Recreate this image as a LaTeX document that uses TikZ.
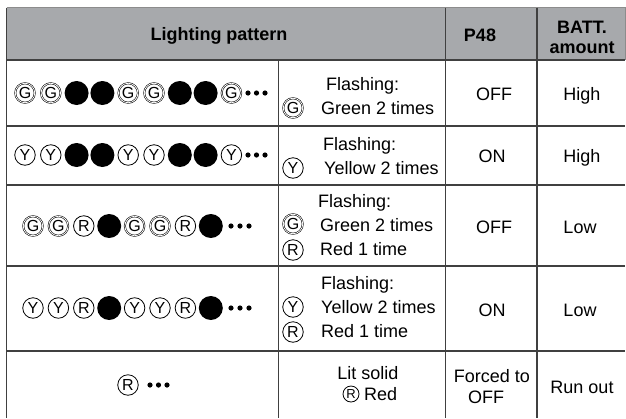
\documentclass[tikz,border=0pt]{standalone}
\usepackage{fontspec}
\setmainfont{Liberation Sans}
\definecolor{tblline}{RGB}{64,64,64}
\definecolor{headgray}{RGB}{167,169,172}
\begin{document}
\begin{tikzpicture}[x=1pt, y=-1pt,
    rule/.style={draw=tblline, line width=1.3pt},
    txt/.style={font=\fontsize{18}{22}\selectfont, inner sep=0pt, anchor=base},
    txtl/.style={txt, anchor=base west},
    head/.style={txt, font=\fontsize{18}{22}\selectfont\bfseries},
    lamp/.style={circle, draw, line width=0.8pt, inner sep=0pt, minimum size=20.5pt, font=\fontsize{16}{16}\selectfont},
    lampG/.style={lamp, double, line width=0.55pt, double distance=0.8pt, minimum size=19.5pt},
    lampY/.style={lamp},
    lampR/.style={lamp},
    lampK/.style={circle, fill=black, inner sep=0pt, minimum size=24pt, text opacity=0}]
    \useasboundingbox (0,0) rectangle (626,418);
    \fill[headgray] (6.5,7.5) rectangle (625,60);
    \draw[rule, line width=1pt, draw=black!45] (6.5,7.5) -- (625,7.5) -- (625,60);
    \draw[rule] (6.5,7.5) -- (6.5,418);
    \draw[rule] (278.5,60) -- (278.5,418);
    \draw[rule] (445.5,7.5) -- (445.5,418);
    \draw[rule] (537,7.5) -- (537,418);
    \foreach \y in {126,185,266,351} \draw[rule] (6.5,\y) -- (625,\y);
    \draw[rule, line width=2.2pt] (6.5,60) -- (625,60);
    \node[head] (hpat) at (219,40) {Lighting pattern};
    \node[head] (hp48) at (480,41) {P48};
    \node[head] (hbatt1) at (582,33) {BATT.};
    \node[head] (hbatt2) at (582,53) {amount};
    % row 1
    \foreach \t [count=\i] in {G,G,K,K,G,G,K,K,G} \node[lamp\t] (ga\i) at ({25+25.8*(\i-1)},93) {\t};
    \foreach \d in {0,1,2} \fill (248+8.5*\d,93) circle (2.6pt);
    \node[lampG] (ka) at (293,108) {G};
    \node[txtl] (fa1) at (326,90) {Flashing:};
    \node[txtl] (fa2) at (321,114) {Green 2 times};
    \node[txt] (pa) at (494,100) {OFF};
    \node[txt] (ba) at (582,100) {High};
    % row 2
    \foreach \t [count=\i] in {Y,Y,K,K,Y,Y,K,K,Y} \node[lamp\t] (gb\i) at ({25+25.8*(\i-1)},155) {\t};
    \foreach \d in {0,1,2} \fill (248+8.5*\d,155) circle (2.6pt);
    \node[lampY] (kb) at (293,168) {Y};
    \node[txtl] (fb1) at (323,150) {Flashing:};
    \node[txtl] (fb2) at (324,174) {Yellow 2 times};
    \node[txt] (pb) at (492,162) {ON};
    \node[txt] (bb) at (582,162) {High};
    % row 3
    \foreach \t [count=\i] in {G,G,R,K,G,G,R,K} \node[lamp\t] (gc\i) at ({33+25.4*(\i-1)},226) {\t};
    \foreach \d in {0,1,2} \fill (231+9*\d,226) circle (2.6pt);
    \node[lampG] (kc1) at (293,224) {G};
    \node[lampR] (kc2) at (293,250) {R};
    \node[txtl] (fc1) at (318,207) {Flashing:};
    \node[txtl] (fc2) at (320,231) {Green 2 times};
    \node[txtl] (fc3) at (320,255) {Red 1 time};
    \node[txt] (pc) at (494,233) {OFF};
    \node[txt] (bc) at (580,233) {Low};
    % row 4
    \foreach \t [count=\i] in {Y,Y,R,K,Y,Y,R,K} \node[lamp\t] (gd\i) at ({33+25.4*(\i-1)},308) {\t};
    \foreach \d in {0,1,2} \fill (231+9*\d,308) circle (2.6pt);
    \node[lampY] (kd1) at (293,307) {Y};
    \node[lampR] (kd2) at (293,332) {R};
    \node[txtl] (fd1) at (321,289) {Flashing:};
    \node[txtl] (fd2) at (321,313) {Yellow 2 times};
    \node[txtl] (fd3) at (321,337) {Red 1 time};
    \node[txt] (pd) at (492,316) {ON};
    \node[txt] (bd) at (580,316) {Low};
    % row 5
    \node[lampR] (ge1) at (128,385) {R};
    \foreach \d in {0,1,2} \fill (150+8.5*\d,385) circle (2.6pt);
    \node[txt] (fe1) at (368,379) {Lit solid};
    \node[lampR, minimum size=16pt, font=\fontsize{13}{13}\selectfont] (ke) at (351,394) {R};
    \node[txtl] (fe2) at (364,400) {Red};
    \node[txt] (pe1) at (492,382) {Forced to};
    \node[txt] (pe2) at (486,403) {OFF};
    \node[txt] (be) at (582,393) {Run out};
\end{tikzpicture}
\end{document}
